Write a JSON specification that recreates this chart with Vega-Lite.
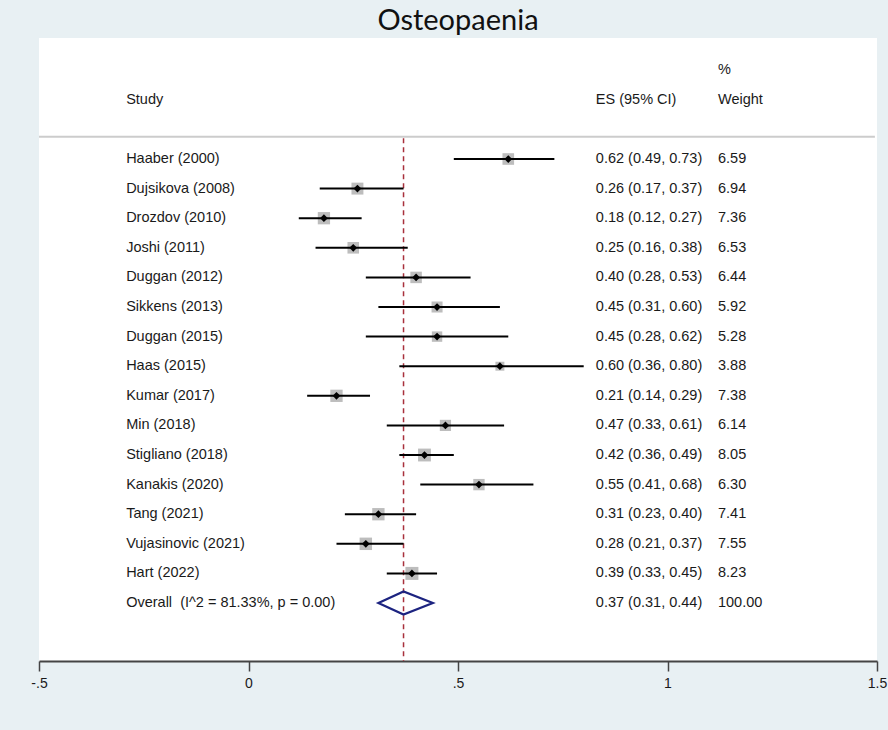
{
  "$schema": "https://vega.github.io/schema/vega-lite/v6.json",
  "width": 838,
  "height": 623,
  "autosize": {"type": "none"},
  "padding": {"left": 39, "top": 38, "right": 11, "bottom": 69},
  "background": "#e8f0f3",
  "config": {
    "view": {"stroke": null, "fill": "white"},
    "text": {"font": "Liberation Sans", "fontSize": 14.5, "color": "#1a1a1a"}
  },
  "title": {"text": "Osteopaenia", "font": "Lato", "fontSize": 29, "fontWeight": "normal", "color": "#111111", "anchor": "middle", "offset": 2},
  "datasets": {
    "studies": [
      {"row": 1, "study": "Haaber (2000)", "es": 0.62, "lo": 0.49, "hi": 0.73, "weight": 6.59, "ci": "0.62 (0.49, 0.73)"},
      {"row": 2, "study": "Dujsikova (2008)", "es": 0.26, "lo": 0.17, "hi": 0.37, "weight": 6.94, "ci": "0.26 (0.17, 0.37)"},
      {"row": 3, "study": "Drozdov (2010)", "es": 0.18, "lo": 0.12, "hi": 0.27, "weight": 7.36, "ci": "0.18 (0.12, 0.27)"},
      {"row": 4, "study": "Joshi (2011)", "es": 0.25, "lo": 0.16, "hi": 0.38, "weight": 6.53, "ci": "0.25 (0.16, 0.38)"},
      {"row": 5, "study": "Duggan (2012)", "es": 0.40, "lo": 0.28, "hi": 0.53, "weight": 6.44, "ci": "0.40 (0.28, 0.53)"},
      {"row": 6, "study": "Sikkens (2013)", "es": 0.45, "lo": 0.31, "hi": 0.60, "weight": 5.92, "ci": "0.45 (0.31, 0.60)"},
      {"row": 7, "study": "Duggan (2015)", "es": 0.45, "lo": 0.28, "hi": 0.62, "weight": 5.28, "ci": "0.45 (0.28, 0.62)"},
      {"row": 8, "study": "Haas (2015)", "es": 0.60, "lo": 0.36, "hi": 0.80, "weight": 3.88, "ci": "0.60 (0.36, 0.80)"},
      {"row": 9, "study": "Kumar (2017)", "es": 0.21, "lo": 0.14, "hi": 0.29, "weight": 7.38, "ci": "0.21 (0.14, 0.29)"},
      {"row": 10, "study": "Min (2018)", "es": 0.47, "lo": 0.33, "hi": 0.61, "weight": 6.14, "ci": "0.47 (0.33, 0.61)"},
      {"row": 11, "study": "Stigliano (2018)", "es": 0.42, "lo": 0.36, "hi": 0.49, "weight": 8.05, "ci": "0.42 (0.36, 0.49)"},
      {"row": 12, "study": "Kanakis (2020)", "es": 0.55, "lo": 0.41, "hi": 0.68, "weight": 6.30, "ci": "0.55 (0.41, 0.68)"},
      {"row": 13, "study": "Tang (2021)", "es": 0.31, "lo": 0.23, "hi": 0.40, "weight": 7.41, "ci": "0.31 (0.23, 0.40)"},
      {"row": 14, "study": "Vujasinovic (2021)", "es": 0.28, "lo": 0.21, "hi": 0.37, "weight": 7.55, "ci": "0.28 (0.21, 0.37)"},
      {"row": 15, "study": "Hart (2022)", "es": 0.39, "lo": 0.33, "hi": 0.45, "weight": 8.23, "ci": "0.39 (0.33, 0.45)"},
      {"row": 16, "study": "Overall\u00a0 (I^2 = 81.33%, p = 0.00)", "es": 0.37, "lo": 0.31, "hi": 0.44, "weight": 100.00, "ci": "0.37 (0.31, 0.44)"}
    ],
    "headers": [
      {"row": -1, "col": "study", "text": "Study"},
      {"row": -1, "col": "es", "text": "ES (95% CI)"},
      {"row": -2, "col": "weight", "text": "%"},
      {"row": -1, "col": "weight", "text": "Weight"}
    ]
  },
  "layer": [
    {
      "data": {"name": "headers"},
      "transform": [{"filter": "datum.col == 'study'"}],
      "mark": {"type": "rule", "color": "#cccccc", "strokeWidth": 2},
      "encoding": {
        "x": {"datum": -0.5, "type": "quantitative", "scale": {"domain": [-0.5, 1.5], "nice": false, "zero": false},
          "axis": {"title": null, "values": [-0.5, 0, 0.5, 1, 1.5], "labelExpr": "datum.value == -0.5 ? '-.5' : datum.value == 0.5 ? '.5' : format(datum.value, '')", "grid": false, "domainColor": "#444444", "domainWidth": 2, "tickColor": "#444444", "tickWidth": 1.5, "tickSize": 10, "labelFont": "Liberation Sans", "labelFontSize": 14, "labelColor": "#1a1a1a", "labelPadding": 5, "labelFlush": false, "labelOverlap": false}},
        "x2": {"datum": 1.495},
        "y": {"datum": 0.25, "type": "quantitative", "scale": {"domain": [-3.088, 17.959], "reverse": true, "nice": false, "zero": false}, "axis": null}
      }
    },
    {
      "data": {"name": "studies"},
      "transform": [{"filter": "datum.row == 16"}],
      "mark": {"type": "rule", "color": "#a8303c", "strokeWidth": 1.5, "strokeDash": [5, 4]},
      "encoding": {
        "x": {"field": "es", "type": "quantitative"},
        "y": {"datum": 0.3, "type": "quantitative"},
        "y2": {"datum": 17.959}
      }
    },
    {
      "data": {"name": "studies"},
      "transform": [{"filter": "datum.row <= 15"}],
      "mark": {"type": "point", "shape": "square", "filled": true, "color": "#bdbdbd", "opacity": 1},
      "encoding": {
        "x": {"field": "es", "type": "quantitative"},
        "y": {"field": "row", "type": "quantitative"},
        "size": {"field": "weight", "type": "quantitative", "scale": {"domain": [0, 10], "range": [0, 205]}, "legend": null}
      }
    },
    {
      "data": {"name": "studies"},
      "transform": [{"filter": "datum.row <= 15"}],
      "mark": {"type": "rule", "color": "#000000", "strokeWidth": 2},
      "encoding": {
        "x": {"field": "lo", "type": "quantitative"},
        "x2": {"field": "hi"},
        "y": {"field": "row", "type": "quantitative"}
      }
    },
    {
      "data": {"name": "studies"},
      "transform": [{"filter": "datum.row <= 15"}],
      "mark": {"type": "point", "shape": "diamond", "filled": true, "color": "#000000", "opacity": 1, "size": 60},
      "encoding": {
        "x": {"field": "es", "type": "quantitative"},
        "y": {"field": "row", "type": "quantitative"}
      }
    },
    {
      "data": {"name": "studies"},
      "transform": [{"filter": "datum.row == 16"}],
      "mark": {"type": "point", "shape": "M-0.857,0L0,-0.392L1,0L0,0.392Z", "filled": false, "stroke": "#1c2380", "strokeWidth": 2.2, "opacity": 1, "size": 3434},
      "encoding": {
        "x": {"field": "es", "type": "quantitative"},
        "y": {"field": "row", "type": "quantitative"}
      }
    },
    {
      "data": {"name": "studies"},
      "mark": {"type": "text", "align": "left", "baseline": "middle"},
      "encoding": {
        "x": {"datum": -0.292, "type": "quantitative"},
        "y": {"field": "row", "type": "quantitative"},
        "text": {"field": "study"}
      }
    },
    {
      "data": {"name": "studies"},
      "mark": {"type": "text", "align": "left", "baseline": "middle"},
      "encoding": {
        "x": {"datum": 0.829, "type": "quantitative"},
        "y": {"field": "row", "type": "quantitative"},
        "text": {"field": "ci"}
      }
    },
    {
      "data": {"name": "studies"},
      "mark": {"type": "text", "align": "left", "baseline": "middle"},
      "encoding": {
        "x": {"datum": 1.1205, "type": "quantitative"},
        "y": {"field": "row", "type": "quantitative"},
        "text": {"field": "weight", "type": "quantitative", "format": ".2f"}
      }
    },
    {
      "data": {"name": "headers"},
      "transform": [{"filter": "datum.col == 'study'"}],
      "mark": {"type": "text", "align": "left", "baseline": "middle"},
      "encoding": {
        "x": {"datum": -0.292, "type": "quantitative"},
        "y": {"field": "row", "type": "quantitative"},
        "text": {"field": "text"}
      }
    },
    {
      "data": {"name": "headers"},
      "transform": [{"filter": "datum.col == 'es'"}],
      "mark": {"type": "text", "align": "left", "baseline": "middle"},
      "encoding": {
        "x": {"datum": 0.829, "type": "quantitative"},
        "y": {"field": "row", "type": "quantitative"},
        "text": {"field": "text"}
      }
    },
    {
      "data": {"name": "headers"},
      "transform": [{"filter": "datum.col == 'weight'"}],
      "mark": {"type": "text", "align": "left", "baseline": "middle"},
      "encoding": {
        "x": {"datum": 1.1205, "type": "quantitative"},
        "y": {"field": "row", "type": "quantitative"},
        "text": {"field": "text"}
      }
    }
  ]
}
